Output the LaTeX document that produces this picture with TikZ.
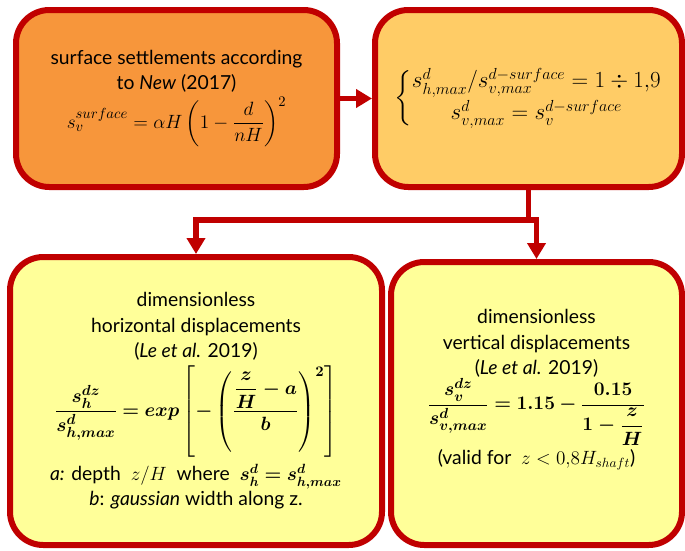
\documentclass[tikz,border=0pt]{standalone}
\usepackage{amsmath}
\usepackage{bm}
\usepackage{fontspec}
\setmainfont{Lato}
\usepackage{xcolor}
\usetikzlibrary{arrows.meta, positioning}

\definecolor{darkred}{HTML}{C00000}
\definecolor{boxorange}{HTML}{F7963B}
\definecolor{boxgold}{HTML}{FFCC66}
\definecolor{boxyellow}{HTML}{FFFF99}

\begin{document}
\begin{tikzpicture}[
    x=0.75pt, y=-0.75pt,
    node distance=24pt,
    stage/.style={draw=darkred, line width=4.5pt, rounded corners=25pt, align=center,
                  inner sep=0pt, font=\fontsize{14.5}{19}\selectfont},
    link/.style={draw=darkred, line width=4.3pt},
    flow/.style={link, -{Triangle[length=12pt, width=13.5pt]}}
  ]
    \useasboundingbox (0,0) rectangle (685,550);
    \node[stage, fill=boxorange, minimum width=240.75pt, minimum height=132.75pt] (new) at (176.5,98.5)
      {surface settlements according\\to \textit{New} (2017)\\[2pt]
       {\fontsize{15.5}{19}\selectfont $s_v^{surface}=\alpha H\left(1-\dfrac{d}{nH}\right)^{2}$}};
    \node[stage, fill=boxgold, minimum width=230.25pt, minimum height=132.75pt, right=of new] (ratio)
      {\fontsize{17.5}{21}\selectfont
       $\left\{\begin{array}{@{}c@{}}
         s^{d}_{h,max}/s^{d-surface}_{v,max}=1\div1{,}9\\[3pt]
         s^{d}_{v,max}=s_v^{d-surface}
       \end{array}\right.$};
    \node[stage, fill=boxyellow, minimum width=279pt, minimum height=216pt] (horiz) at (196,401)
      {dimensionless\\horizontal displacements\\(\textit{Le et al.} 2019)\\[3pt]
       {\fontsize{15}{19}\selectfont
        $\displaystyle\bm{\frac{s_h^{dz}}{s^{d}_{h,max}}=exp\left[-\left(\frac{\dfrac{z}{H}-a}{b}\right)^{2}\right]}$}\\[4pt]
       \textit{a:} depth \ $z/H$ \ where \ $\bm{s_h^{d}=s^{d}_{h,max}}$\\
       \textit{b}: \textit{gaussian} width along z.};
    \node[stage, fill=boxyellow, minimum width=218.25pt, minimum height=212.25pt] (vert) at (536.5,403.5)
      {dimensionless\\vertical displacements\\(\textit{Le et al.} 2019)\\
       {\fontsize{15}{19}\selectfont
        $\displaystyle\bm{\frac{s_v^{dz}}{s^{d}_{v,max}}=1.15-\frac{0.15}{1-\dfrac{z}{H}}}$}\\[2pt]
       (valid for \ $z<0{,}8H_{shaft}$)\\[6pt]};
    \coordinate[below=22.5pt of ratio] (split);
    \draw[flow] (new) -- (ratio);
    \draw[link] (ratio) -- (split);
    \draw[flow] (split) -| (horiz.north);
    \draw[flow] (split) -| (vert.north);
  \end{tikzpicture}
\end{document}
